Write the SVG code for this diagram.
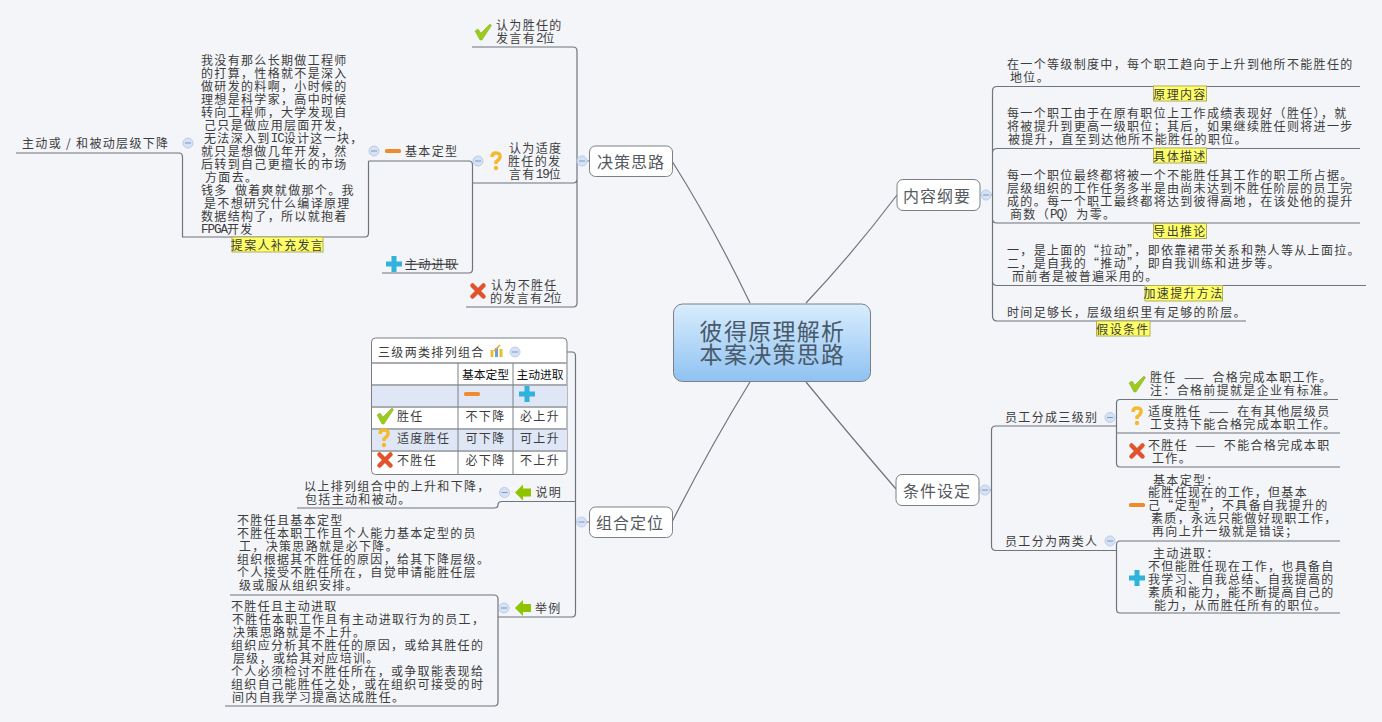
<svg xmlns="http://www.w3.org/2000/svg" width="1382" height="722" viewBox="0 0 1382 722">
<style>
text{font-family:"Noto Sans CJK SC","Noto Sans",sans-serif;font-size:12px;letter-spacing:1.33px;fill:#3c3c3c;word-spacing:3.2px;dominant-baseline:central;transform:translateY(-.6px)}
.m{text-anchor:middle}
.h{fill:#111;font-size:11.8px;letter-spacing:0}
.l{font-family:"Liberation Mono",monospace;font-size:12.5px;letter-spacing:-1px;baseline-shift:-1.5px}
.s{word-spacing:0}
.b{font-size:16px;letter-spacing:1px;fill:#555a60}
.c{font-size:23px;letter-spacing:1.3px;fill:#48596a;text-anchor:middle}
.n{fill:#fff;stroke:#7b8086;stroke-width:1}
.y{fill:#ffff66;stroke:#b3ad5c;stroke-width:1}
.w{fill:none;stroke:#6f757c;stroke-width:1.2}
.g{fill:none;stroke:#a9adb2;stroke-width:2}
.d{fill:none;stroke:#7b8086;stroke-width:1}
</style>
<defs>
<linearGradient id="cg" x1="0" y1="0" x2="0" y2="1"><stop offset="0" stop-color="#d9edfd"/><stop offset="1" stop-color="#8fc2f2"/></linearGradient>
<g id="col"><circle r="5" fill="#d5e1f5" stroke="#bccde9"/><path d="M-3 0H3" stroke="#7f97c0" stroke-width="1"/></g>
<path id="chk" d="M-8-1-5-3-2 1 7-8 8.500-6.500-1 8H-3Z" fill="#9ccb1e" stroke="#7fae14" stroke-width=".5"/>
<g id="que"><path d="M-4-4Q-4-8 0-8 5-8 4-3.500 3-1 0 1V3" fill="none" stroke="#f4b92f" stroke-width="3.400"/><circle cy="7" r="2.200" fill="#f4b92f"/></g>
<path id="crs" d="M-5.500-5.500 5.500 5.500M5.500-5.500-5.500 5.500" fill="none" stroke="#e2522b" stroke-width="4.500" stroke-linecap="round"/>
<rect id="min" x="-8" y="-2" width="16" height="4" rx="1.500" fill="#ef8a2d"/>
<path id="pls" d="M-2.500-8H2.500V-2.500H8V2.500H2.500V8H-2.500V2.500H-8V-2.500H-2.500Z" fill="#2fb2dc"/>
<path id="arw" d="M-8 0 0-8V-4H8V4H0V8Z" fill="#8fc400"/>
</defs>
<rect width="1382" height="722" fill="#f3f5f9"/>
<g id="connectors">
<path class="w" d="M750 303Q713 226 672 161M806 303Q854 252 897 195M806 382Q852 438 896 489M750 382Q711 445 672 522"/>
<path class="w" d="M472 47H573Q577 47 577 51V303Q577 307 573 307H466M472.500 183H573Q577 183 577 179M577 161H589"/>
<path class="w" d="M368.500 161H469Q472.500 161 472.500 165V269Q472.500 273 469 273H382M472.500 165V183"/>
<path class="w" d="M16 153H179Q182.500 153 182.500 157V237H365Q368.500 237 368.500 233V161"/>
<path class="w" d="M567 352H572Q575.500 352 575.500 356V613Q575.500 617 572 617H498M297 508H494Q498 508 498 505Q498 501.500 502 501.500H575.500M575.500 522H589"/>
<path class="w" d="M230 595H494Q498 595 498 599V702Q498 706 494 706H225"/>
<path class="w" d="M980 195H992.500M1360 86.500H997Q992.500 86.500 992.500 91V316Q992.500 321 997 321H1246M1360 148.500H997Q992.500 148.500 992.500 153M1360 223H997Q992.500 223 992.500 219M1366 285.500H997Q992.500 285.500 992.500 281"/>
<path class="w" d="M979 490H991.500M1116.500 426H996Q991.500 426 991.500 430V546Q991.500 550.500 996 550.500H1116.500V545Q1116.500 541 1120 541H1340M1338 399.500H1120Q1116.500 399.500 1116.500 403V463Q1116.500 467 1120 467H1340M1116.500 433H1340M1116.500 550V609Q1116.500 613 1120 613H1340"/>
</g>
<g id="center"><rect x="673.500" y="304" width="197" height="77.500" rx="9" fill="url(#cg)" stroke="#7b8086"/><text class="c" x="772.500" y="331">彼得原理解析</text><text class="c" x="772.500" y="354">本案决策思路</text></g>
<g id="node-juece"><rect class="n" x="589.500" y="146" width="83" height="30.500" rx="6"/><text class="b" x="597" y="161.500">决策思路</text><use href="#col" x="582" y="161"/></g>
<g id="node-neirong"><rect class="n" x="897" y="179.500" width="83" height="31" rx="6"/><text class="b" x="903" y="195.500">内容纲要</text><use href="#col" x="986" y="195"/></g>
<g id="node-tiaojian"><rect class="n" x="896" y="474.500" width="83" height="31" rx="6"/><text class="b" x="903" y="490.500">条件设定</text><use href="#col" x="985" y="490"/></g>
<g id="node-zuhe"><rect class="n" x="589.500" y="507" width="83" height="30.500" rx="6"/><text class="b" x="596" y="522.500">组合定位</text><use href="#col" x="581.500" y="522"/></g>
<g id="node-shengren"><use href="#chk" x="483" y="32"/><text x="496" y="25">认为胜任的</text><text x="496" y="38">发言有<tspan class="l">2</tspan>位</text></g>
<g id="node-shidu"><use href="#col" x="478" y="161"/><use href="#que" x="496" y="161"/><text x="509" y="148">认为适度</text><text x="508" y="161">胜任的发</text><text x="509" y="174">言有<tspan class="l">19</tspan>位</text></g>
<g id="node-busheng"><use href="#crs" x="478" y="291"/><text x="491" y="285">认为不胜任</text><text x="490" y="298">的发言有<tspan class="l">2</tspan>位</text></g>
<g id="node-jiben"><use href="#col" x="374" y="151"/><use href="#min" x="393" y="151"/><text x="405" y="151">基本定型</text></g>
<g id="node-zhudong"><use href="#pls" x="394" y="264"/><text x="405" y="264" text-decoration="line-through">主动进取</text></g>
<g id="node-xiajiang"><text class="s" x="22" y="143">主动或 / 和被动层级下降</text><use href="#col" x="188" y="143"/></g>
<g id="node-fayan">
<text x="201" y="60">我没有那么长期做工程师</text><text x="201" y="73">的打算，性格就不是深入</text><text x="201" y="86">做研发的料啊，小时候的</text><text x="201" y="99">理想是科学家，高中时候</text><text x="201" y="112">转向工程师，大学发现自</text><text x="204" y="125">己只是做应用层面开发，</text><text x="204" y="138">无法深入到<tspan class="l">IC</tspan>设计这一块，</text><text x="201" y="151">就只是想做几年开发，然</text><text x="201" y="164">后转到自己更擅长的市场</text><text x="205" y="177">方面去。</text><text x="201" y="190">钱多 做着爽就做那个。我</text><text x="204" y="203">是不想研究什么编译原理</text><text x="201" y="216">数据结构了，所以就抱着</text><text x="201" y="229"><tspan class="l">FPGA</tspan>开发</text>
<rect class="y" x="232" y="237" width="91" height="15"/><text class="m" x="277.500" y="245">提案人补充发言</text></g>
<g id="node-table">
<rect x="371.500" y="338" width="195.500" height="136.500" rx="4" fill="#fff" stroke="#7b8086"/>
<rect x="372" y="385" width="195" height="22" fill="#dfe7f7"/><rect x="372" y="429" width="195" height="22" fill="#dfe7f7"/>
<path class="g" d="M372 363H567M372 385H567M372 407H567M372 429H567M372 451H567"/><path class="d" d="M458 363V474M513 363V474"/>
<text x="378" y="352">三级两类排列组合</text>
<g id="chart-icon"><rect x="490.500" y="350" width="3" height="7" fill="#e8c22a"/><rect x="495" y="348" width="3" height="9" fill="#6a9fd8"/><rect x="499.500" y="349" width="3" height="8" fill="#e8c22a"/><path d="M494 351 500 345" stroke="#e9a23a" stroke-width="1.500"/></g>
<use href="#col" x="515" y="352"/>
<text class="m h" x="485.500" y="374">基本定型</text><text class="m h" x="540" y="374">主动进取</text>
<use href="#min" x="472" y="394"/><use href="#pls" x="527" y="394"/>
<use href="#chk" x="385" y="416"/><text x="397" y="416">胜任</text><text class="m" x="485.500" y="416">不下降</text><text class="m" x="540" y="416">必上升</text>
<use href="#que" x="384" y="438"/><text x="397" y="438">适度胜任</text><text class="m" x="485.500" y="438">可下降</text><text class="m" x="540" y="438">可上升</text>
<use href="#crs" x="385" y="460"/><text x="397" y="460">不胜任</text><text class="m" x="485.500" y="460">必下降</text><text class="m" x="540" y="460">不上升</text>
</g>
<g id="node-shuoming"><use href="#col" x="504.500" y="492.500"/><use href="#arw" x="523" y="492.500"/><text x="535.500" y="492.500">说明</text><text x="304" y="486">以上排列组合中的上升和下降，</text><text x="305" y="499">包括主动和被动。</text></g>
<g id="node-juli"><use href="#col" x="504" y="608"/><use href="#arw" x="523" y="608"/><text x="535" y="608">举例</text></g>
<g id="node-li1"><text x="237" y="520">不胜任且基本定型</text><text x="237" y="533">不胜任本职工作且个人能力基本定型的员</text><text x="239" y="546">工，决策思路就是必下降。</text><text x="237" y="559">组织根据其不胜任的原因，给其下降层级。</text><text x="237" y="572">个人接受不胜任所在，自觉申请能胜任层</text><text x="239" y="585">级或服从组织安排。</text></g>
<g id="node-li2"><text x="231" y="606">不胜任且主动进取</text><text x="232" y="619">不胜任本职工作且有主动进取行为的员工，</text><text x="233" y="632">决策思路就是不上升。</text><text x="231" y="645">组织应分析其不胜任的原因，或给其胜任的</text><text x="233" y="658">层级，或给其对应培训。</text><text x="231" y="671">个人必须检讨不胜任所在，或争取能表现给</text><text x="231" y="684">组织自己能胜任之处，或在组织可接受的时</text><text x="232" y="697">间内自我学习提高达成胜任。</text></g>
<g id="node-yuanli"><text x="1007" y="64">在一个等级制度中，每个职工趋向于上升到他所不能胜任的</text><text x="1010" y="77">地位。</text><rect class="y" x="1153.500" y="86" width="53" height="15"/><text class="m" x="1180" y="94">原理内容</text></g>
<g id="node-miaoshu"><text x="1007" y="113">每一个职工由于在原有职位上工作成绩表现好（胜任），就</text><text x="1007" y="126">将被提升到更高一级职位；其后，如果继续胜任则将进一步</text><text x="1008" y="139">被提升，直至到达他所不能胜任的职位。</text><rect class="y" x="1153.500" y="148" width="53" height="15"/><text class="m" x="1180" y="156">具体描述</text></g>
<g id="node-tuilun"><text x="1007" y="175">每一个职位最终都将被一个不能胜任其工作的职工所占据。</text><text x="1007" y="188">层级组织的工作任务多半是由尚未达到不胜任阶层的员工完</text><text x="1007" y="201">成的。每一个职工最终都将达到彼得高地，在该处他的提升</text><text x="1010" y="214">商数（<tspan class="l">PQ</tspan>）为零。</text><rect class="y" x="1153.500" y="223.500" width="53" height="15"/><text class="m" x="1180" y="231.500">导出推论</text></g>
<g id="node-jiasu"><text x="1007" y="250">一，是上面的“拉动”，即依靠裙带关系和熟人等从上面拉。</text><text x="1007" y="263">二，是自我的“推动”，即自我训练和进步等。</text><text x="1012" y="276">而前者是被普遍采用的。</text><rect class="y" x="1145" y="285.500" width="77.500" height="15.500"/><text class="m" x="1183.500" y="293.500">加速提升方法</text></g>
<g id="node-jiashe"><text x="1007" y="312">时间足够长，层级组织里有足够的阶层。</text><rect class="y" x="1096.500" y="321" width="53.500" height="15"/><text class="m" x="1123" y="329">假设条件</text></g>
<g id="node-sanji"><text x="1005" y="417">员工分成三级别</text><use href="#col" x="1110" y="417.500"/></g>
<g id="node-sheng"><use href="#chk" x="1137" y="384"/><text x="1150" y="377">胜任 —— 合格完成本职工作。</text><text x="1150" y="390">注：合格前提就是企业有标准。</text></g>
<g id="node-shi"><use href="#que" x="1137" y="416"/><text x="1148" y="411">适度胜任 —— 在有其他层级员</text><text x="1150" y="424">工支持下能合格完成本职工作。</text></g>
<g id="node-bu"><use href="#crs" x="1137" y="451"/><text x="1148" y="445">不胜任 —— 不能合格完成本职</text><text x="1152" y="458">工作。</text></g>
<g id="node-liang"><text x="1005" y="541">员工分为两类人</text><use href="#col" x="1110" y="541"/></g>
<g id="node-dingxing"><use href="#min" x="1137" y="505"/><text x="1153" y="480">基本定型：</text><text x="1148" y="492.500">能胜任现在的工作，但基本</text><text x="1148" y="505">己“定型”，不具备自我提升的</text><text x="1151" y="518">素质，永远只能做好现职工作，</text><text x="1152" y="531">再向上升一级就是错误；</text></g>
<g id="node-jinqu"><use href="#pls" x="1137" y="578"/><text x="1153" y="553">主动进取：</text><text x="1148" y="566">不但能胜任现在工作，也具备自</text><text x="1148" y="579">我学习、自我总结、自我提高的</text><text x="1148" y="592">素质和能力，能不断提高自己的</text><text x="1154" y="605">能力，从而胜任所有的职位。</text></g>
</svg>
